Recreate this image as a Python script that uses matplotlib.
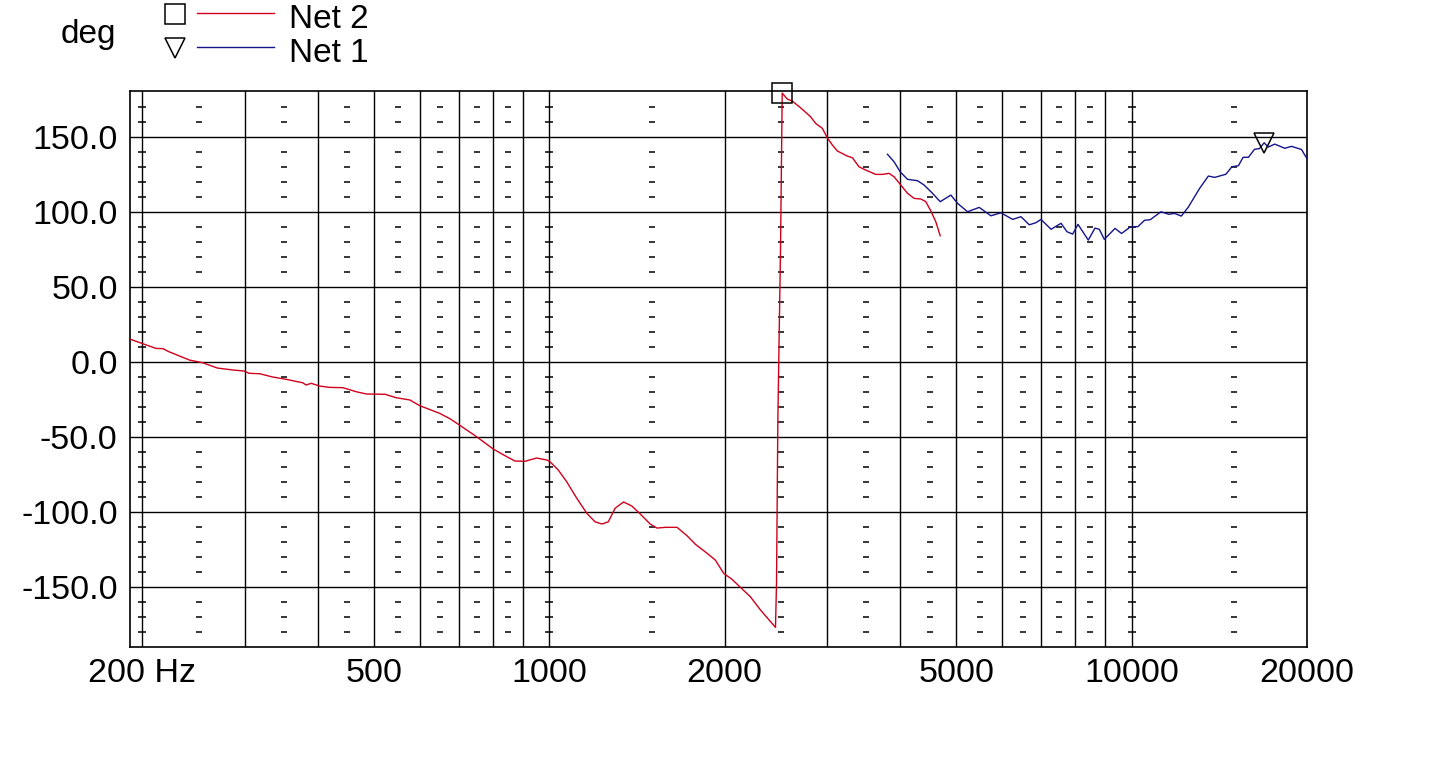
import matplotlib
matplotlib.use("Agg")
import matplotlib.pyplot as plt
from matplotlib.lines import Line2D
from matplotlib.ticker import NullLocator

plt.rcParams['font.family'] = ['Liberation Sans', 'DejaVu Sans']

# Net 2 (red) phase, Hz / deg
net2_freq = [191, 201, 211, 217, 222, 231, 241, 254, 269, 286, 299, 305, 318, 335,
             353, 367, 377, 382, 390, 403, 419, 442, 466, 485, 522, 546, 576, 599,
             648, 675, 702, 750, 801, 845, 873, 908, 951, 990, 1003, 1036, 1071,
             1115, 1160, 1198, 1231, 1263, 1297, 1341, 1386, 1433, 1490, 1531, 1582,
             1657, 1724, 1782, 1866, 1928, 1993, 2060, 2129, 2215, 2305, 2446, 2456,
             2469, 2495, 2512, 2563, 2614, 2701, 2811, 2867, 2944, 3003, 3063, 3124,
             3251, 3316, 3403, 3495, 3636, 3734, 3833, 3910, 4015, 4123, 4232, 4346,
             4433, 4522, 4612, 4692]
net2_phase = [15.3, 12.2, 9.3, 9.1, 7.1, 4.4, 1.5, -0.3, -3.8, -5.1, -5.8, -7.3, -7.6, -9.8,
              -11.3, -12.7, -13.6, -15.1, -14.0, -15.8, -16.7, -16.9, -19.6, -21.1, -21.3,
              -23.6, -25.1, -28.9, -34.0, -37.6, -42.0, -49.6, -57.8, -62.9, -65.8, -66.0,
              -63.8, -65.1, -66.3, -71.8, -79.6, -90.7, -100.7, -106.3, -107.8, -106.3,
              -97.3, -93.1, -95.8, -101.1, -107.8, -110.5, -110.0, -110.0, -115.6, -121.3,
              -127.3, -131.8, -140.7, -144.7, -150.0, -156.3, -165.1, -176.7, -147.3,
              -38.5, 74.9, 179.5, 175.5, 174.2, 169.7, 163.7, 159.3, 156.0, 149.7, 144.9,
              140.9, 137.5, 136.4, 130.4, 128.2, 125.3, 125.3, 126.0, 123.7, 118.2, 112.7,
              109.3, 108.9, 107.1, 100.9, 93.7, 84.4]
net2_marker = 67

# Net 1 (blue) phase, Hz / deg
net1_freq = [3809, 3910, 4004, 4123, 4290, 4403, 4552, 4692, 4895, 5026, 5229, 5475,
             5735, 5967, 6249, 6458, 6675, 6854, 6991, 7274, 7568, 7746, 7923, 8092,
             8428, 8655, 8804, 8980, 9369, 9614, 9949, 10257, 10529, 10770, 11236,
             11589, 11858, 12177, 12519, 13093, 13552, 13895, 14525, 14875, 15263,
             15550, 15880, 16262, 16587, 16899, 17169, 17623, 18336, 18830, 19591, 20000]
net1_phase = [138.7, 133.7, 127.1, 122.0, 121.1, 118.2, 112.7, 107.1, 111.5, 106.0, 100.4,
              103.3, 97.7, 99.7, 95.3, 97.1, 91.7, 93.1, 95.3, 88.7, 92.7, 87.1, 85.5, 92.0,
              81.5, 89.5, 88.7, 82.0, 89.3, 85.9, 90.2, 90.5, 94.7, 95.1, 100.4, 98.7, 99.3,
              97.5, 103.5, 116.0, 124.2, 123.3, 125.4, 130.4, 131.1, 136.7, 136.7, 142.0,
              142.5, 146.4, 143.5, 145.5, 142.7, 144.0, 141.9, 136.0]
net1_marker = 49

x_ticks = [200, 500, 1000, 2000, 5000, 10000, 20000]
x_tick_labels = ['200 Hz', '500', '1000', '2000', '5000', '10000', '20000']
y_ticks = [-150, -100, -50, 0, 50, 100, 150]
y_tick_labels = ['-150.0', '-100.0', '-50.0', '0.0', '50.0', '100.0', '150.0']

grid_freqs = [200, 300, 400, 500, 600, 700, 800, 900, 1000, 2000, 3000, 4000,
              5000, 6000, 7000, 8000, 9000, 10000]
dash_freqs = [250, 350, 450, 550, 650, 750, 850, 1500, 2500, 3500, 4500, 5500,
              6500, 7500, 8500, 15000]
dash_cross_freqs = [200, 1000, 10000]
dash_levels = [v for v in range(-180, 180, 10) if v % 50 != 0]

RED = '#d0001c'
BLUE = '#14148c'

fig = plt.figure(figsize=(14.36, 7.64), dpi=100)
ax = fig.add_axes([0.0907, 0.1535, 0.8193, 0.727])
ax.set_xscale('log')
ax.set_xlim(190.6, 20000)
ax.set_ylim(-189.6, 180.7)

# grid
for f in grid_freqs:
    ax.axvline(f, color='black', lw=1.0, zorder=1)
for v in y_ticks:
    ax.axhline(v, color='black', lw=1.0, zorder=1)

# small dash marks
for f in dash_freqs:
    ax.plot([f] * len(dash_levels), dash_levels, ls='none', marker='_',
            ms=3.8, mew=1.1, color='black', zorder=1)
for f in dash_cross_freqs:
    ax.plot([f] * len(dash_levels), dash_levels, ls='none', marker='_',
            ms=5.2, mew=1.1, color='black', zorder=1)

ax.plot(net2_freq, net2_phase, color=RED, lw=1.0, zorder=3)
ax.plot(net1_freq, net1_phase, color=BLUE, lw=1.0, zorder=3)
ax.plot(net2_freq[net2_marker], net2_phase[net2_marker], marker='s', ms=14,
        mfc='none', mec='black', mew=1.1, clip_on=False, zorder=4)
ax.plot(net1_freq[net1_marker], net1_phase[net1_marker], marker='v', ms=14.5,
        mfc='none', mec='black', mew=1.1, clip_on=False, zorder=4)

ax.xaxis.set_minor_locator(NullLocator())
ax.set_xticks(x_ticks)
ax.set_xticklabels(x_tick_labels)
ax.set_yticks(y_ticks)
ax.set_yticklabels(y_tick_labels)
ax.tick_params(axis='x', length=0, pad=8, labelsize=24.5)
ax.tick_params(axis='y', length=0, pad=9, labelsize=24.5)
for s in ax.spines.values():
    s.set_linewidth(1.2)

# header: unit label and legend
W, H = 1436, 764
fig.text(88 / W, 1 - 43 / H, 'deg', fontsize=24, ha='center', va='baseline')
fig.text(289 / W, 1 - 28 / H, 'Net 2', fontsize=24, ha='left', va='baseline')
fig.text(289 / W, 1 - 61.5 / H, 'Net 1', fontsize=24, ha='left', va='baseline')
fig.add_artist(Line2D([197 / W, 274 / W], [1 - 13.3 / H] * 2, color=RED, lw=1.0))
fig.add_artist(Line2D([197 / W, 274 / W], [1 - 47.3 / H] * 2, color=BLUE, lw=1.0))
fig.add_artist(Line2D([175 / W], [1 - 14 / H], marker='s', ms=14, mfc='none',
                      mec='black', mew=1.1))
fig.add_artist(Line2D([175 / W], [1 - 48 / H], marker='v', ms=14.5, mfc='none',
                      mec='black', mew=1.1))

fig.savefig('out.png', dpi=100, facecolor='white')
